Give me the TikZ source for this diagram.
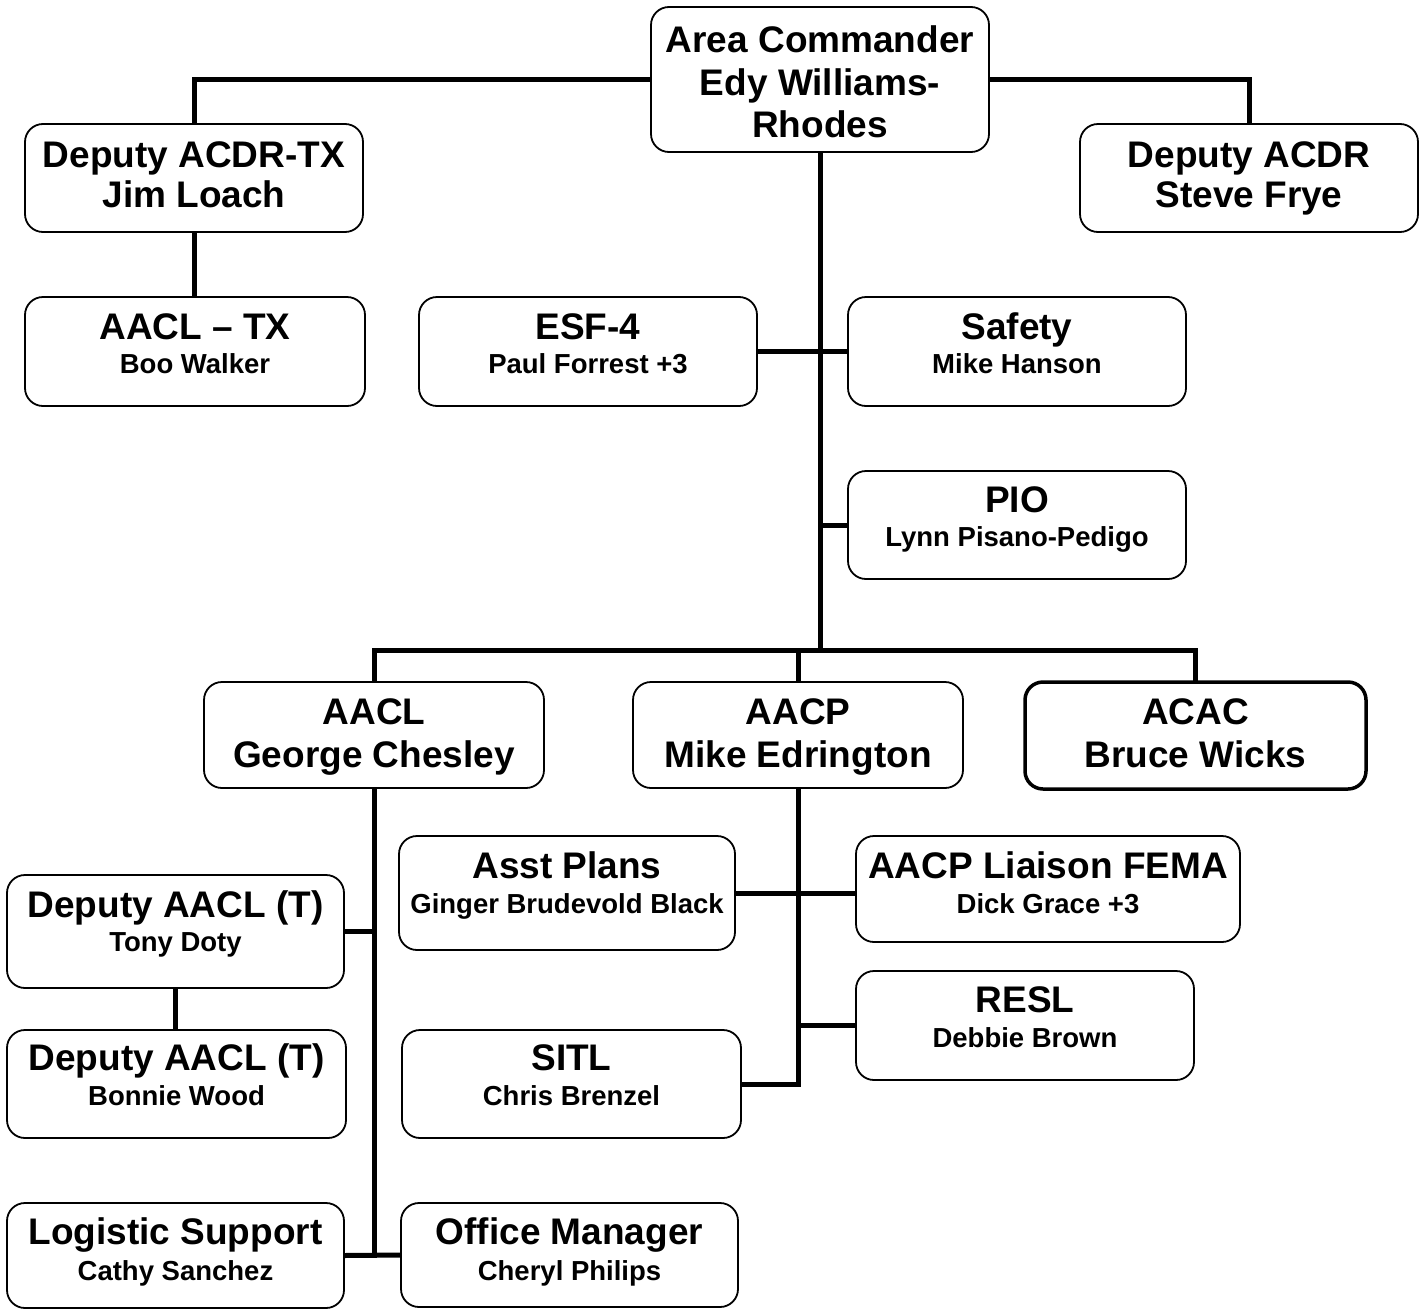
\documentclass[tikz,border=0pt]{standalone}
\usepackage{fontspec}
\setmainfont{Liberation Sans}
\pgfdeclarelayer{background}
\pgfsetlayers{background,main}
\tikzset{
  box/.style={draw=black, line width=1.8pt, rounded corners=18pt, fill=white, inner sep=0pt, outer sep=0pt},
  thickbox/.style={line width=3.5pt},
  big/.style={anchor=base, inner sep=0pt, font=\fontsize{37}{42}\selectfont\bfseries},
  small/.style={anchor=base, inner sep=0pt, font=\fontsize{27.5}{31}\selectfont\bfseries},
  link/.style={line width=5pt, line cap=rect}
}
\newcommand\orgbox[6][]{\node[box,#1,minimum width={(#5)-(#3)},minimum height={(#6)-(#4)}] (#2) at ({((#3)+(#5))/2},{((#4)+(#6))/2}) {};}
\begin{document}
\begin{tikzpicture}[x=1pt,y=-1pt]
\begin{pgfonlayer}{background}
\fill[white] (0,0) rectangle (1426,1309);
\end{pgfonlayer}
\useasboundingbox (0,0) rectangle (1426,1309);
% boxes
\orgbox{ac}{651}{7}{989}{152}
\orgbox{dtx}{25}{124}{363}{232}
\orgbox{dac}{1080}{124}{1418}{232}
\orgbox{atx}{25}{297}{365}{406}
\orgbox{esf}{419}{297}{757}{406}
\orgbox{saf}{848}{297}{1186}{406}
\orgbox{pio}{848}{471}{1186}{579}
\orgbox{aacl}{204}{682}{544}{788}
\orgbox{aacp}{633}{682}{963}{788}
\orgbox[thickbox]{acac}{1025}{682}{1366}{789}
\orgbox{asst}{399}{836}{735}{950}
\orgbox{liai}{856}{836}{1240}{942}
\orgbox{tony}{7}{875}{344}{988}
\orgbox{resl}{856}{971}{1194}{1080}
\orgbox{bon}{7}{1030}{346}{1138}
\orgbox{sitl}{402}{1030}{741}{1138}
\orgbox{logi}{7}{1203}{344}{1308}
\orgbox{off}{401}{1203}{738}{1307}
% connectors
\coordinate (bus) at (820,650);
\begin{pgfonlayer}{background}
\draw[link] (dtx.north) |- (ac.west);
\draw[link] (dac.north) |- (ac.east);
\draw[link] (ac.south) -- (bus);
\draw[link] (esf.east) -- (saf.west);
\draw[link] (pio.west) -- (pio.west -| ac.south);
\draw[link] (aacl.north) |- (bus) -| (acac.north);
\draw[link] (aacp.north) -- (aacp.north |- bus);
\draw[link] (dtx.south) -- (dtx.south |- atx.north);
\draw[link] (aacl.south) -- (aacl.south |- logi.east);
\draw[link] (tony.east) -- (tony.east -| aacl.south);
\draw[link] (logi.east) -- (off.west);
\draw[link] (tony.south) -- (tony.south |- bon.north);
\draw[link] (aacp.south) -- (aacp.south |- sitl.east);
\draw[link] (asst.east) -- (liai.west |- asst.east);
\draw[link] (resl.west) -- (resl.west -| aacp.south);
\draw[link] (sitl.east) -- (sitl.east -| aacp.south);
\end{pgfonlayer}
% texts
\node[big] (ac-a) at (820,52) {Area Commander};
\node[big] (ac-b) at (820,95) {Edy Williams-};
\node[big] (ac-c) at (820,137) {Rhodes};
\node[big] (dtx-a) at (194,167) {Deputy ACDR-TX};
\node[big] (dtx-b) at (194,207) {Jim Loach};
\node[big] (dac-a) at (1249,167) {Deputy ACDR};
\node[big] (dac-b) at (1249,207) {Steve Frye};
\node[big] (atx-a) at (195,339) {AACL – TX};
\node[small] (atx-b) at (195,373) {Boo Walker};
\node[big] (esf-a) at (588,339) {ESF-4};
\node[small] (esf-b) at (588,373) {Paul Forrest +3};
\node[big] (saf-a) at (1017,339) {Safety};
\node[small] (saf-b) at (1017,373) {Mike Hanson};
\node[big] (pio-a) at (1017,512) {PIO};
\node[small] (pio-b) at (1017,546) {Lynn Pisano-Pedigo};
\node[big] (aacl-a) at (374,724) {AACL};
\node[big] (aacl-b) at (374,767) {George Chesley};
\node[big] (aacp-a) at (798,724) {AACP};
\node[big] (aacp-b) at (798,767) {Mike Edrington};
\node[big] (acac-a) at (1195.5,724) {ACAC};
\node[big] (acac-b) at (1195.5,767) {Bruce Wicks};
\node[big] (asst-a) at (567,878) {Asst Plans};
\node[small] (asst-b) at (567,913) {Ginger Brudevold Black};
\node[big] (liai-a) at (1048,878) {AACP Liaison FEMA};
\node[small] (liai-b) at (1048,913) {Dick Grace +3};
\node[big] (tony-a) at (175.5,917) {Deputy AACL (T)};
\node[small] (tony-b) at (175.5,951) {Tony Doty};
\node[big] (resl-a) at (1025,1012) {RESL};
\node[small] (resl-b) at (1025,1047) {Debbie Brown};
\node[big] (bon-a) at (176.5,1070) {Deputy AACL (T)};
\node[small] (bon-b) at (176.5,1105) {Bonnie Wood};
\node[big] (sitl-a) at (571.5,1070) {SITL};
\node[small] (sitl-b) at (571.5,1105) {Chris Brenzel};
\node[big] (logi-a) at (175.5,1244) {Logistic Support};
\node[small] (logi-b) at (175.5,1280) {Cathy Sanchez};
\node[big] (off-a) at (569.5,1244) {Office Manager};
\node[small] (off-b) at (569.5,1280) {Cheryl Philips};
\end{tikzpicture}
\end{document}
